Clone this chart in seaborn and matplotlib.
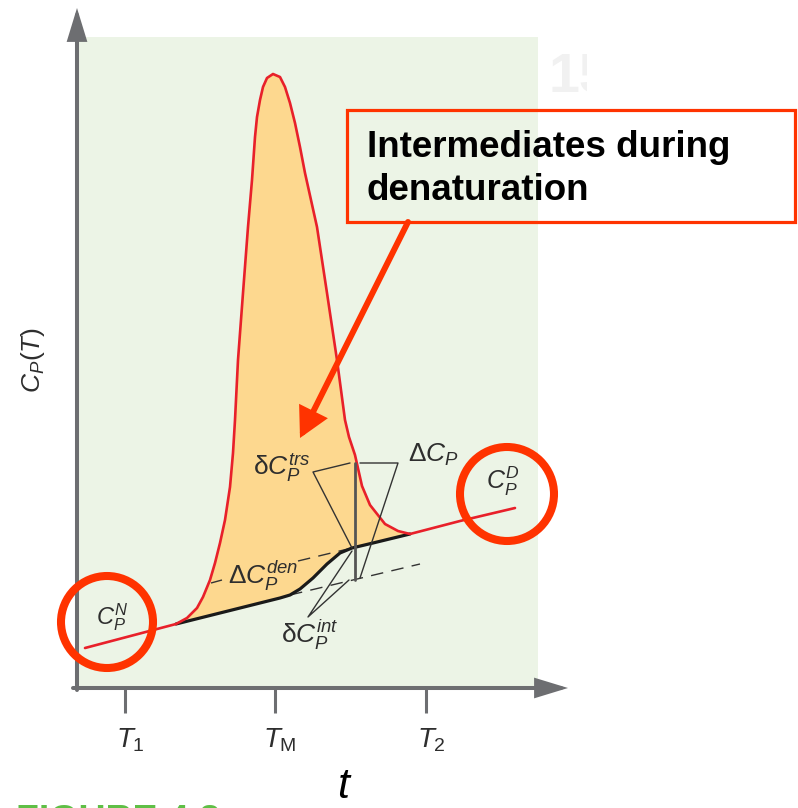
import matplotlib
matplotlib.use("Agg")
import matplotlib.pyplot as plt
import seaborn as sns
from matplotlib.patches import Rectangle, Circle, FancyArrowPatch
from matplotlib.transforms import Bbox, TransformedBbox

sns.set_style("white")
plt.rcParams["font.family"] = ["Liberation Sans", "DejaVu Sans"]
plt.rcParams["mathtext.fontset"] = "custom"
plt.rcParams["mathtext.rm"] = "Liberation Sans"
plt.rcParams["mathtext.it"] = "Liberation Sans:italic"
plt.rcParams["mathtext.bf"] = "Liberation Sans:bold"

# --- values (x = temperature, y = heat capacity, arbitrary units) ---
# measured Cp(T) trace
t_curve = [85, 176, 187, 197, 203, 210, 215, 220, 225, 230, 233, 235, 238, 243, 248,
           252, 255, 257, 260, 263, 267, 273, 280, 285, 290, 295, 300, 305, 317, 327,
           337, 345, 349, 355, 362, 370, 385, 398, 410, 460, 515]
cp_curve = [40, 64, 70, 80, 91, 108, 125, 145, 168, 201, 235, 268, 328, 395, 461,
            508, 551, 571, 588, 601, 610, 614, 611, 601, 585, 565, 541, 515, 461, 395,
            328, 268, 251, 233, 202, 183, 164, 157, 154, 167, 180]

# progress baseline (native -> sigmoid -> denatured)
t_base = [176, 280, 290, 300, 313, 327, 340, 352, 373, 410]
cp_base = [64, 90, 93, 99, 110, 124, 135, 140, 145, 154]

# dashed extrapolations of the two baselines
t_den_ext_a, cp_den_ext_a = [211, 222], [105, 108]
t_den_ext_b, cp_den_ext_b = [298, 352], [127, 140]
t_nat_ext, cp_nat_ext = [290, 420], [93, 124]

# leader lines for the labels
t_trs_lead, cp_trs_lead = [350, 313, 352], [225, 216, 140]
t_vert, cp_vert = [355, 355], [225, 108]
t_dcp_lead, cp_dcp_lead = [360, 398, 360], [225, 225, 110]
t_int_lead, cp_int_lead = [352, 308, 349], [137, 71, 108]

tick_pos = [125, 275, 426]
tick_labels = [r"$T_1$", r"$T_\mathrm{M}$", r"$T_2$"]

RED = "#e8202a"
ORANGE_RED = "#ff3300"
FILL = "#fdd88f"
GREEN_BG = "#ecf4e6"
AXIS_GRAY = "#6d6e71"
INK = "#2e2e2e"

fig = plt.figure(figsize=(7.98, 8.08), dpi=100)
ax = fig.add_axes([0, 0, 1, 1])
ax.set_xlim(0, 798)
ax.set_ylim(-120, 688)
ax.set_axis_off()

# panel background
ax.add_patch(Rectangle((77, 0), 461, 651, facecolor=GREEN_BG, edgecolor="none", zorder=0))

# shaded excess heat capacity between the trace and the baseline
fill_t = [t for t in t_curve if 176 <= t <= 410] + t_base[::-1]
fill_cp = [c for t, c in zip(t_curve, cp_curve) if 176 <= t <= 410] + cp_base[::-1]
ax.fill(fill_t, fill_cp, color=FILL, zorder=1, linewidth=0)

dash = (0, (9, 6))
for tx, cy in [(t_den_ext_a, cp_den_ext_a), (t_den_ext_b, cp_den_ext_b), (t_nat_ext, cp_nat_ext)]:
    sns.lineplot(x=tx, y=cy, sort=False, estimator=None, color="#333333",
                 linewidth=1.0, linestyle=dash, ax=ax, zorder=2)

sns.lineplot(x=t_base, y=cp_base, sort=False, estimator=None, color="#1a1a1a",
             linewidth=2.3, solid_joinstyle="round", ax=ax, zorder=3)
sns.lineplot(x=t_curve, y=cp_curve, sort=False, estimator=None, color=RED,
             linewidth=1.9, solid_joinstyle="round", solid_capstyle="round", ax=ax, zorder=4)

for tx, cy in [(t_trs_lead, cp_trs_lead), (t_dcp_lead, cp_dcp_lead), (t_int_lead, cp_int_lead)]:
    sns.lineplot(x=tx, y=cy, sort=False, estimator=None, color="#333333",
                 linewidth=1.0, ax=ax, zorder=5)
sns.lineplot(x=t_vert, y=cp_vert, sort=False, estimator=None, color="#555555",
             linewidth=2.0, ax=ax, zorder=5)

# axes with arrow heads
ax.add_patch(FancyArrowPatch((77, -2), (77, 680), arrowstyle="-|>,head_length=1.8,head_width=0.55",
                             mutation_scale=10, color=AXIS_GRAY, linewidth=2.9,
                             shrinkA=0, shrinkB=0, joinstyle="miter", zorder=6))
ax.add_patch(FancyArrowPatch((73, 0), (568, 0), arrowstyle="-|>,head_length=1.8,head_width=0.55",
                             mutation_scale=10, color=AXIS_GRAY, linewidth=2.9,
                             shrinkA=0, shrinkB=0, joinstyle="miter", zorder=6))
for x, lab in zip(tick_pos, tick_labels):
    ax.plot([x, x], [0, -25], color=AXIS_GRAY, linewidth=2.2, solid_capstyle="butt", zorder=6)
    ax.text(x + 5, -52, lab, fontsize=20, color=INK, ha="center", va="center")

ax.text(343, -119.5, "t", fontsize=31, style="italic", color="black", ha="center", va="bottom")
ax.text(33, 328, r"$C_P(T)$", fontsize=19, color=INK, rotation=90, ha="center", va="center")

# curve labels
lab_kw = dict(color=INK, ha="center", va="center", zorder=7)
ax.text(112, 71, r"$C_P^N$", fontsize=17, **lab_kw)
ax.text(503, 207, r"$C_P^D$", fontsize=18, **lab_kw)
ax.text(282, 220, r"$\mathrm{\delta}C_P^{trs}$", fontsize=19, **lab_kw)
ax.text(433, 233, r"$\Delta C_P$", fontsize=19, **lab_kw)
ax.text(263, 112, r"$\Delta C_P^{den}$", fontsize=19, **lab_kw)
ax.text(310, 53, r"$\mathrm{\delta}C_P^{int}$", fontsize=19, **lab_kw)

# highlight circles
ax.add_patch(Circle((107, 66), 46, fill=False, edgecolor=ORANGE_RED, linewidth=5.8, zorder=8))
ax.add_patch(Circle((507, 194), 47, fill=False, edgecolor=ORANGE_RED, linewidth=5.8, zorder=8))

# callout
ax.add_patch(Rectangle((347, 466), 448, 112, fill=False, edgecolor=ORANGE_RED, linewidth=2.3, zorder=8))
ax.text(367, 531, "Intermediates during", fontsize=26.5, fontweight="bold", color="black",
        ha="left", va="baseline", zorder=8)
ax.text(367, 488, "denaturation", fontsize=26.5, fontweight="bold", color="black",
        ha="left", va="baseline", zorder=8)
ax.add_patch(FancyArrowPatch((408, 466), (300, 250), arrowstyle="-|>,head_length=0.75,head_width=0.4",
                             mutation_scale=20, color=ORANGE_RED, linewidth=4.3,
                             shrinkA=0, shrinkB=0, joinstyle="miter", zorder=8))

# faint page number behind, cut off by the slide
pg = ax.text(549, 596, "15", fontsize=40, fontweight="bold", color="#f1f1f1", ha="left",
             va="baseline", zorder=0)
pg.set_clip_box(TransformedBbox(Bbox([[540, 500], [587, 688]]), ax.transData))
pg.set_clip_on(True)

# figure caption, cut off at the bottom edge as in the source slide
ax.text(16, -144, "FIGURE 4.8", fontsize=27, fontweight="bold", color="#5fbf46",
        ha="left", va="baseline")

fig.savefig("out.png", dpi=100)
